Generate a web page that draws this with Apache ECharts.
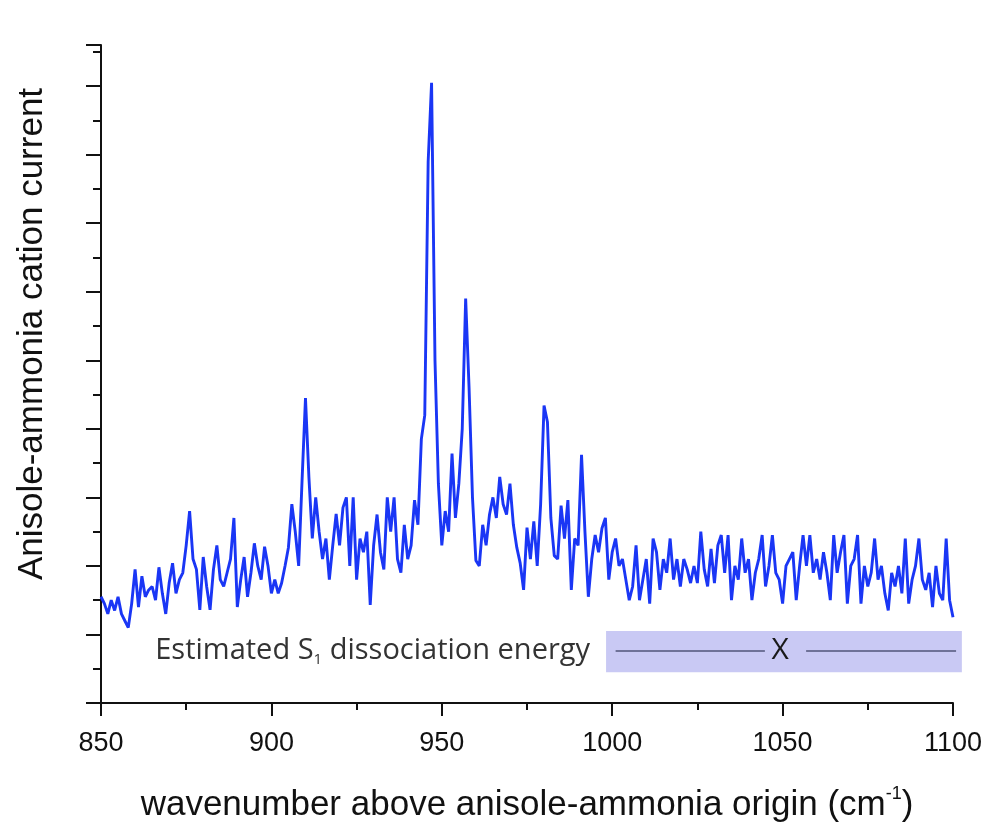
<!DOCTYPE html>
<html>
<head>
<meta charset="utf-8">
<script src="https://cdn.jsdelivr.net/npm/echarts@6/dist/echarts.min.js"></script>
<style>
  html, body { margin: 0; padding: 0; background: #fff; }
  #spectrum { width: 995px; height: 823px; }
</style>
</head>
<body>
<div id="spectrum"></div>
<script>
// wavenumber above the complex origin (cm-1)
const wavenumbers = [
  850, 851, 852, 853, 854, 855, 856, 857, 858, 859,
  860, 861, 862, 863, 864, 865, 866, 867, 868, 869,
  870, 871, 872, 873, 874, 875, 876, 877, 878, 879,
  880, 881, 882, 883, 884, 885, 886, 887, 888, 889,
  890, 891, 892, 893, 894, 895, 896, 897, 898, 899,
  900, 901, 902, 903, 904, 905, 906, 907, 908, 909,
  910, 911, 912, 913, 914, 915, 916, 917, 918, 919,
  920, 921, 922, 923, 924, 925, 926, 927, 928, 929,
  930, 931, 932, 933, 934, 935, 936, 937, 938, 939,
  940, 941, 942, 943, 944, 945, 946, 947, 948, 949,
  950, 951, 952, 953, 954, 955, 956, 957, 958, 959,
  960, 961, 962, 963, 964, 965, 966, 967, 968, 969,
  970, 971, 972, 973, 974, 975, 976, 977, 978, 979,
  980, 981, 982, 983, 984, 985, 986, 987, 988, 989,
  990, 991, 992, 993, 994, 995, 996, 997, 998, 999,
  1000, 1001, 1002, 1003, 1004, 1005, 1006, 1007, 1008, 1009,
  1010, 1011, 1012, 1013, 1014, 1015, 1016, 1017, 1018, 1019,
  1020, 1021, 1022, 1023, 1024, 1025, 1026, 1027, 1028, 1029,
  1030, 1031, 1032, 1033, 1034, 1035, 1036, 1037, 1038, 1039,
  1040, 1041, 1042, 1043, 1044, 1045, 1046, 1047, 1048, 1049,
  1050, 1051, 1052, 1053, 1054, 1055, 1056, 1057, 1058, 1059,
  1060, 1061, 1062, 1063, 1064, 1065, 1066, 1067, 1068, 1069,
  1070, 1071, 1072, 1073, 1074, 1075, 1076, 1077, 1078, 1079,
  1080, 1081, 1082, 1083, 1084, 1085, 1086, 1087, 1088, 1089,
  1090, 1091, 1092, 1093, 1094, 1095, 1096, 1097, 1098, 1099,
  1100
];

// cation current (arb. units, one unit per major y tick)
const cationCurrent = [
  1.55, 1.45, 1.30, 1.50, 1.35, 1.55, 1.30, 1.20, 1.10, 1.45,
  1.95, 1.40, 1.85, 1.55, 1.65, 1.70, 1.50, 1.98, 1.60, 1.30,
  1.75, 2.04, 1.60, 1.80, 1.90, 2.30, 2.80, 2.10, 1.95, 1.36,
  2.13, 1.70, 1.36, 1.95, 2.30, 1.80, 1.70, 1.90, 2.10, 2.70,
  1.40, 1.80, 2.13, 1.55, 1.90, 2.33, 2.00, 1.80, 2.28, 2.00,
  1.60, 1.80, 1.60, 1.75, 2.00, 2.27, 2.90, 2.50, 2.00, 3.25,
  4.45, 3.30, 2.40, 3.00, 2.50, 2.10, 2.40, 1.80, 2.30, 2.76,
  2.30, 2.85, 3.00, 2.00, 3.00, 1.80, 2.40, 2.20, 2.50, 1.43,
  2.30, 2.75, 2.20, 1.95, 3.00, 2.50, 3.00, 2.10, 1.90, 2.60,
  2.10, 2.30, 2.96, 2.60, 3.85, 4.20, 7.90, 9.05, 5.00, 3.20,
  2.30, 2.80, 2.50, 3.64, 2.70, 3.20, 4.00, 5.90, 4.60, 3.00,
  2.08, 2.00, 2.60, 2.30, 2.75, 3.00, 2.70, 3.30, 2.90, 2.75,
  3.20, 2.60, 2.27, 2.04, 1.65, 2.56, 2.10, 2.65, 2.00, 2.90,
  4.34, 4.10, 2.70, 2.15, 2.10, 2.88, 2.40, 2.96, 1.65, 2.40,
  2.30, 3.62, 2.50, 1.55, 2.10, 2.45, 2.20, 2.55, 2.70, 1.80,
  2.20, 2.40, 2.00, 2.10, 1.80, 1.50, 1.70, 2.30, 1.50, 1.80,
  2.10, 1.45, 2.40, 2.20, 1.65, 2.10, 1.90, 2.40, 1.80, 2.10,
  1.70, 2.10, 1.95, 1.75, 2.00, 1.75, 2.50, 1.95, 1.70, 2.25,
  1.75, 2.30, 2.45, 1.90, 2.45, 1.50, 2.00, 1.80, 2.40, 1.90,
  2.10, 1.50, 1.90, 2.10, 2.45, 1.70, 2.00, 2.45, 1.90, 1.80,
  1.45, 2.00, 2.10, 2.20, 1.50, 2.00, 2.45, 2.00, 2.45, 1.90,
  2.10, 1.80, 2.20, 1.90, 1.50, 2.45, 1.90, 2.20, 2.45, 1.45,
  2.00, 2.10, 2.45, 1.45, 2.00, 1.70, 1.90, 2.40, 1.80, 2.00,
  1.60, 1.35, 1.90, 1.70, 2.00, 1.60, 2.40, 1.45, 1.80, 2.00,
  2.40, 1.80, 1.65, 1.90, 1.40, 2.00, 1.60, 1.50, 2.40, 1.50,
  1.25
];

// dissociation-energy bar: band, estimate, level
const bandRange = [998.2, 1102.6];
const bandLevels = [1.05, 0.45];
const estimateX = 1049.3;
const estimateLevel = 0.76;
const leftSegment = [1001, 1044.8];
const rightSegment = [1056.9, 1100.9];
const labelRightX = 993.5;

const spectrumData = wavenumbers.map((w, i) => [w, cationCurrent[i]]);

const axisFont = 'Liberation Sans, Arial, sans-serif';
const noteFont = 'Open Sans, Noto Sans, sans-serif';

let myChart = echarts.init(document.getElementById('spectrum'));

let option = {
    animation: false,
    grid: { left: 101, right: 42, top: 45, bottom: 120, outerBoundsMode: 'none' },
    xAxis: {
        type: 'value',
        min: 850,
        max: 1100,
        interval: 50,
        axisLine: { lineStyle: { color: '#111', width: 2 } },
        axisTick: { length: 13, lineStyle: { color: '#111', width: 2 } },
        minorTick: { show: true, splitNumber: 2, length: 7, lineStyle: { color: '#111', width: 2 } },
        splitLine: { show: false },
        axisLabel: {
            fontSize: 27, color: '#111', margin: 27, fontFamily: axisFont,
            formatter: v => String(v)
        },
        name: '{a|wavenumber above anisole-ammonia origin (cm}{s|-1}{a|)}',
        nameLocation: 'middle',
        nameGap: 82,
        nameTextStyle: {
            rich: {
                a: { fontSize: 35, color: '#111', fontFamily: axisFont, lineHeight: 40 },
                s: { fontSize: 18, color: '#111', fontFamily: axisFont, verticalAlign: 'top', lineHeight: 40 }
            }
        }
    },
    yAxis: {
        type: 'value',
        min: 0,
        max: 9.6,
        interval: 1,
        axisLine: { show: true, lineStyle: { color: '#111', width: 2 } },
        axisTick: { show: true, length: 15, lineStyle: { color: '#111', width: 2 } },
        minorTick: { show: true, splitNumber: 2, length: 8, lineStyle: { color: '#111', width: 2 } },
        splitLine: { show: false },
        axisLabel: { show: false }
    },
    series: [
        {
            name: 'cation current',
            type: 'line',
            data: spectrumData,
            showSymbol: false,
            lineStyle: { color: '#1a36f5', width: 2.9 },
            z: 3
        }
    ]
};
myChart.setOption(option, true);

// annotation drawn in data coordinates, converted to pixels
const toPx = (x, y) => myChart.convertToPixel({ gridIndex: 0 }, [x, y]);
const boxA = toPx(bandRange[0], bandLevels[0]);
const boxB = toPx(bandRange[1], bandLevels[1]);
const l0 = toPx(leftSegment[0], estimateLevel);
const l1 = toPx(leftSegment[1], estimateLevel);
const r0 = toPx(rightSegment[0], estimateLevel);
const r1 = toPx(rightSegment[1], estimateLevel);
const xMark = toPx(estimateX, estimateLevel);
const labelPos = toPx(labelRightX, estimateLevel);

myChart.setOption({
    graphic: [
        {
            type: 'rect',
            shape: { x: boxA[0], y: boxA[1], width: boxB[0] - boxA[0], height: boxB[1] - boxA[1] },
            style: { fill: '#c9c9f4' },
            z: 1
        },
        {
            type: 'line',
            shape: { x1: l0[0], y1: l0[1], x2: l1[0], y2: l1[1] },
            style: { stroke: '#50557a', lineWidth: 1.5 },
            z: 2
        },
        {
            type: 'line',
            shape: { x1: r0[0], y1: r0[1], x2: r1[0], y2: r1[1] },
            style: { stroke: '#50557a', lineWidth: 1.5 },
            z: 2
        },
        {
            type: 'text',
            x: xMark[0],
            y: xMark[1],
            style: { text: 'X', fontSize: 30, fill: '#1a1a1a', fontFamily: noteFont, align: 'center', verticalAlign: 'middle' },
            z: 2
        },
        {
            type: 'text',
            x: labelPos[0],
            y: labelPos[1],
            style: {
                text: '{a|Estimated S}{s|1}{a| dissociation energy}',
                align: 'right',
                verticalAlign: 'middle',
                rich: {
                    a: { fontSize: 29, fill: '#333', fontFamily: noteFont, lineHeight: 32 },
                    s: { fontSize: 15, fill: '#333', fontFamily: noteFont, verticalAlign: 'bottom', lineHeight: 32 }
                }
            },
            z: 2
        },
        {
            type: 'text',
            x: 32,
            y: 334,
            rotation: Math.PI / 2,
            style: { text: 'Anisole-ammonia cation current', fontSize: 35, fill: '#111', fontFamily: axisFont, align: 'center', verticalAlign: 'middle' }
        }
    ]
});

window.addEventListener('resize', function () {
    myChart.resize();
});
</script>
</body>
</html>
